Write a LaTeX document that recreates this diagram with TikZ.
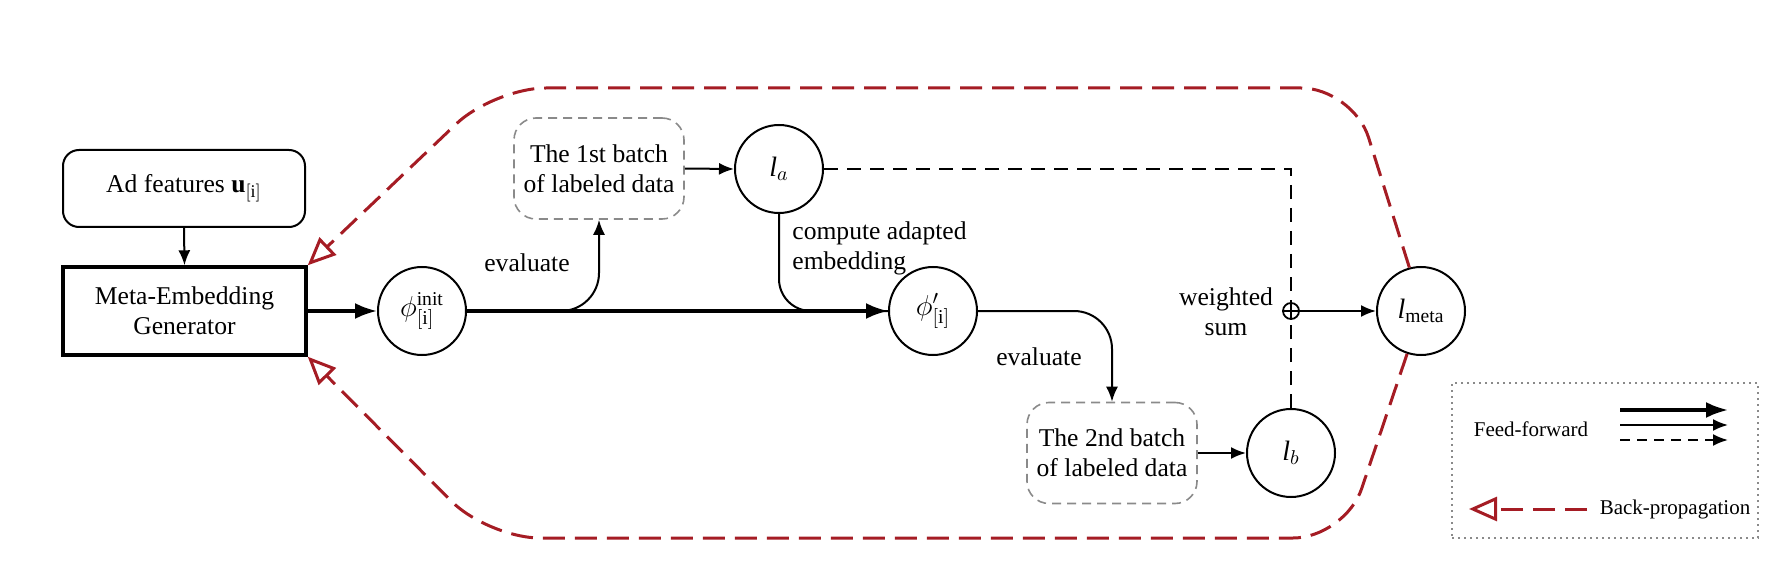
\documentclass[tikz,border=0pt]{standalone}
\usepackage{fontspec}
\setmainfont{Liberation Serif}
\usetikzlibrary{arrows.meta,calc}
\definecolor{bpred}{HTML}{A51C24}
\definecolor{boxgray}{HTML}{8A8A8A}
\tikzset{
  txt/.style={font=\fontsize{12.8}{15}\selectfont, align=center, inner sep=0pt},
  smalltxt/.style={font=\fontsize{10.5}{12}\selectfont, inner sep=0pt},
  roundbox/.style={draw, line width=1pt, rounded corners=8pt, minimum width=121pt, minimum height=38.5pt, txt},
  genbox/.style={draw, line width=1.7pt, minimum width=121.5pt, minimum height=44pt, txt},
  databox/.style={draw=boxgray, line width=0.8pt, dash pattern=on 4.5pt off 3pt, rounded corners=11pt, minimum width=85pt, minimum height=50.5pt, txt},
  var/.style={circle, draw, line width=1pt, minimum size=44pt, inner sep=0pt, font=\fontsize{14}{16}\selectfont},
  sumnode/.style={circle, draw, line width=0.9pt, minimum size=8pt, inner sep=0pt},
  thinarrow/.style={line width=1pt, -{Latex[length=7.5pt,width=6pt]}},
  thickarrow/.style={line width=1.6pt, -{Latex[length=11pt,width=8pt]}},
  thinline/.style={line width=1pt},
  dashline/.style={line width=1pt, dash pattern=on 7pt off 4.5pt},
  backprop/.style={draw=bpred, line width=1.5pt, dash pattern=on 11pt off 5pt, rounded corners=26pt, -{Triangle[open, length=14pt, width=12pt, line width=1.5pt]}},
  legendbox/.style={draw=boxgray, line width=0.9pt, dash pattern=on 1pt off 2pt, minimum width=153pt, minimum height=77.5pt, inner sep=0pt}
}
\begin{document}
\begin{tikzpicture}[x=0.5pt,y=-0.5pt]
\useasboundingbox (0,0) rectangle (1782,572);

% nodes
\node[roundbox] (ad) at (184,188.5) {Ad features $\mathbf{u}_{\mathrm{[i]}}$};
\node[genbox] (meta) at (184.5,311) {Meta-Embedding\\Generator};
\node[var] (phiinit) at (422,311) {$\phi^{\mathrm{init}}_{\mathrm{[i]}}$};
\node[databox] (b1) at (599,168.5) {The 1st batch\\of labeled data};
\node[var] (la) at (779,169) {$\mathit{l}_{a}$};
\node[var] (phip) at (933,311) {$\phi^{\prime}_{\mathrm{[i]}}$};
\node[databox] (b2) at (1112,453) {The 2nd batch\\of labeled data};
\node[var] (lb) at (1291,453) {$\mathit{l}_{b}$};
\node[sumnode] (op) at (1291,311) {};
\node[var] (lmeta) at (1421,311) {$\mathit{l}_{\mathrm{meta}}$};

% labels
\node[txt] (ev1) at (527,263) {evaluate};
\node[txt, anchor=west, align=left] (cae) at (792,248.5) {compute adapted\\embedding};
\node[txt] (ws) at (1226,312) {weighted\\sum};
\node[txt] (ev2) at (1039,357) {evaluate};

% sum cross
\draw[line width=0.9pt] (op.north) -- (op.south) (op.west) -- (op.east);

% feed-forward connections
\draw[thinarrow] (ad.south) -- (meta.north);
\draw[thinarrow, rounded corners=19pt] (phiinit.east) -- (phiinit.east -| b1.south) -- (b1.south);
\draw[thinline, rounded corners=16pt] (la.south) -- (la.south |- phip.west) -- (phip.west);
\draw[thickarrow] (meta.east) -- (phiinit.west);
\draw[thickarrow] (phiinit.east) -- (phip.west);
\draw[thinarrow] (b1.east) -- (la.west);
\draw[thinarrow, rounded corners=19pt] (phip.east) -- (phip.east -| b2.north) -- (b2.north);
\draw[thinarrow] (b2.east) -- (lb.west);
\draw[dashline] (la.east) -- (la.east -| op.north) -- (op.north);
\draw[dashline] (lb.north) -- (op.south);
\draw[thinarrow] (op.east) -- (lmeta.west);

% back-propagation
\coordinate (tr) at (1353,88);
\coordinate (tl) at (494,88);
\coordinate (br) at (1345,538);
\coordinate (bl) at (488,538);
\draw[backprop] (lmeta.105) -- (tr) -- (tl) -- (meta.north east);
\draw[backprop] (lmeta.-108) -- (br) -- (bl) -- (meta.south east);

% legend
\node[legendbox] (leg) at (1605,460.5) {};
\node[smalltxt] (fftxt) at (1531,429) {Feed-forward};
\node[smalltxt] (bptxt) at (1675,509) {Back-propagation};
\coordinate (f1s) at (1620,410); \coordinate (f1e) at (1728,410);
\coordinate (f2s) at (1620,425); \coordinate (f2e) at (1728,425);
\coordinate (f3s) at (1620,440); \coordinate (f3e) at (1728,440);
\coordinate (bps) at (1587,509); \coordinate (bpe) at (1469,509);
\draw[thickarrow] (f1s) -- (f1e);
\draw[thinarrow] (f2s) -- (f2e);
\draw[line width=1pt, dash pattern=on 5pt off 3.5pt, -{Latex[length=7.5pt,width=6pt]}] (f3s) -- (f3e);
\draw[backprop] (bps) -- (bpe);
\end{tikzpicture}
\end{document}
